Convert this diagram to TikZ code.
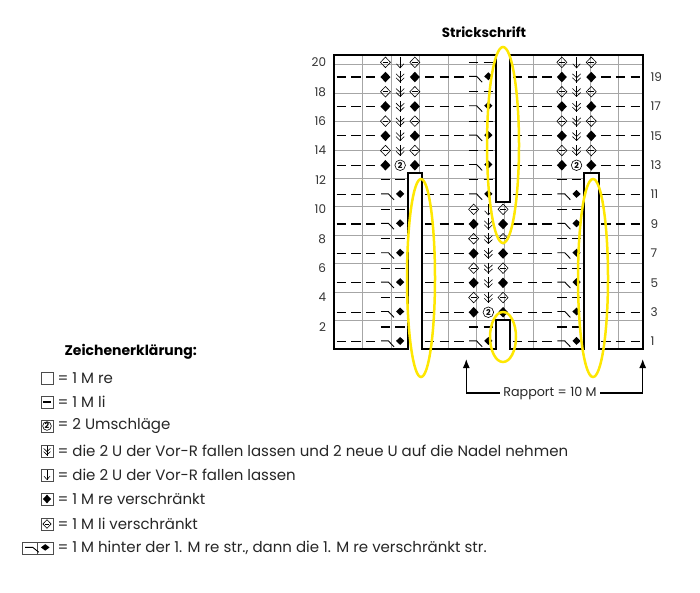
\documentclass[tikz,border=0pt]{standalone}
\usepackage{fontspec}
\setmainfont{Poppins}
\usepackage{tikz}
\usetikzlibrary{calc,arrows.meta}

% stitch symbols, in cell units (cell (i,r) spans i..i+1, r-1..r)
\newcommand\kli[2]{\draw[lidash] (#1+.18,#2-.5) -- (#1+.82,#2-.5);}
\newcommand\kfull[2]{\fill (#1+.5,#2-.86) -- (#1+.84,#2-.5) -- (#1+.5,#2-.14) -- (#1+.16,#2-.5) -- cycle;}
\newcommand\kopen[2]{\draw[sym] (#1+.5,#2-.86) -- (#1+.84,#2-.5) -- (#1+.5,#2-.14) -- (#1+.16,#2-.5) -- cycle;
  \draw[sym] (#1+.3,#2-.5) -- (#1+.7,#2-.5);}
\newcommand\karrow[2]{\draw[sym] (#1+.5,#2-.12) -- (#1+.5,#2-.88);
  \draw[sym] (#1+.25,#2-.6) -- (#1+.5,#2-.88) -- (#1+.75,#2-.6);}
\newcommand\kdarrow[2]{\draw[sym] (#1+.5,#2-.12) -- (#1+.5,#2-.88);
  \draw[sym] (#1+.22,#2-.28) -- (#1+.5,#2-.55) -- (#1+.78,#2-.28);
  \draw[sym] (#1+.22,#2-.55) -- (#1+.5,#2-.82) -- (#1+.78,#2-.55);}
\newcommand\kyarn[2]{\draw[sym] (#1+.5,#2-.5) circle[radius=.36];
  \node[font=\fontsize{8}{8}\selectfont\bfseries] at (#1+.5,#2-.5) {2};}
\newcommand\kcross[2]{\draw[sym,line width=.9pt] (#1+.2,#2-.45) -- (#1+.7,#2-.45) -- (#1+1.08,#2-.85);
  \fill (#1+1.5,#2-.72) -- (#1+1.78,#2-.45) -- (#1+1.5,#2-.18) -- (#1+1.22,#2-.45) -- cycle;}
% one motif of three columns
\newcommand\kplain[2]{\ifodd#2 \kcross{#1}{#2}\else \kli{#1}{#2}\kli{#1+1}{#2}\fi}
\newcommand\kmotif[4]{%
  \ifnum#2<#3 \kplain{#1}{#2}\else\ifnum#2>#4 \kplain{#1}{#2}\else
    \ifodd#2 \kfull{#1}{#2}\kfull{#1+2}{#2}\else \kopen{#1}{#2}\kopen{#1+2}{#2}\fi
    \ifnum#2=#3 \kyarn{#1+1}{#2}\else\ifnum#2=#4 \karrow{#1+1}{#2}\else \kdarrow{#1+1}{#2}\fi\fi
  \fi\fi}

\begin{document}
\begin{tikzpicture}[x=1pt,y=-1pt,
    gridline/.style={gray!70,line width=.5pt},
    outline/.style={line width=2pt},
    lidash/.style={line width=1.1pt},
    sym/.style={line width=.6pt},
    ring/.style={yellow!90!orange,line width=2.5pt},
    label/.style={font=\fontsize{12}{14}\selectfont,text=black!80},
    legend/.style={font=\fontsize{15}{17}\selectfont,anchor=west,text=black!85}]
  \useasboundingbox (0,0) rectangle (700,593);
  \node[font=\fontsize{13.4}{15}\selectfont\bfseries] (title) at (484,32) {Strickschrift};
  % chart
  \begin{scope}[shift={(334,349)},x=14.7pt,y=14.7pt]
    \draw[gridline] (0,0) grid (21,20);
    \foreach \r in {1,...,20}{
      \ifodd\r
        \foreach \c in {0,1,2,6,7,8,12,13,14,18,19,20}{\kli{\c}{\r}}
      \fi
      \kmotif{3}{\r}{13}{20}
      \kmotif{9}{\r}{3}{10}
      \kmotif{15}{\r}{13}{20}
    }
    \draw[outline] (0,0) rectangle (21,20);
    % empty columns
    \fill[white] (5,-.2) rectangle (6,12) (17,-.2) rectangle (18,12)
      (11,-.2) rectangle (12,2) (11,10) rectangle (12,20.2);
    \draw[outline] (5,-.04) -- (5,12) -- (6,12) -- (6,-.04);
    \draw[outline] (17,-.04) -- (17,12) -- (18,12) -- (18,-.04);
    \draw[outline] (11,-.04) -- (11,2) -- (12,2) -- (12,-.04);
    \draw[outline] (11,20.04) -- (11,10) -- (12,10) -- (12,20.04);
    \foreach \r in {2,4,...,20}{\node[label,anchor=east] at (-.3,\r-.5) {\r};}
    \foreach \r in {1,3,...,19}{\node[label,anchor=west] at (21.3,\r-.5) {\r};}
    \coordinate (rapL) at (9,0);
    \coordinate (rapR) at (21,0);
  \end{scope}
  % marked spots
  \draw[ring] (421,278) ellipse[x radius=14,y radius=99];
  \draw[ring] (503,145) ellipse[x radius=16,y radius=98];
  \draw[ring] (503,337) ellipse[x radius=13,y radius=25];
  \draw[ring] (593,278) ellipse[x radius=15,y radius=99];
  % repeat
  \node[legend,anchor=center,font=\fontsize{12.7}{15}\selectfont] (rapport) at (550,393) {Rapport = 10 M};
  \draw[-{Latex[length=9pt,width=7pt]},line width=1.2pt] (rapport.west) -| ($(rapL)+(0,10)$);
  \draw[-{Latex[length=9pt,width=7pt]},line width=1.2pt] (rapport.east) -| ($(rapR)+(0,10)$);
  % legend
  \node[font=\fontsize{14}{16}\selectfont\bfseries,anchor=west] (key) at (61,352) {Zeichenerklärung:};
  \foreach \y/\t in {378/{= 1 M re},402/{= 1 M li},426/{= 2 Umschläge},
      451/{= die 2 U der Vor-R fallen lassen und 2 neue U auf die Nadel nehmen},
      475/{= die 2 U der Vor-R fallen lassen},499/{= 1 M re verschränkt},
      524/{= 1 M li verschränkt},548/{= 1 M hinter der 1. M re str., dann die 1. M re verschränkt str.}}{
    \node[legend] at (54,\y) {\t};
  }
  \foreach \y/\s in {378/0,402/1,426/2,451/3,475/4,499/5,524/6}{
    \begin{scope}[shift={(41,\y+6)},x=12pt,y=12pt]
      \draw[gridline,draw=black!70] (0,0) rectangle (1,1);
      \ifcase\s \or \kli{0}{1}\or \kyarn{0}{1}\or \kdarrow{0}{1}\or \karrow{0}{1}\or \kfull{0}{1}\or \kopen{0}{1}\fi
    \end{scope}
  }
  \begin{scope}[shift={(22,554)},x=15.5pt,y=12pt]
    \draw[gridline,draw=black!70] (0,0) rectangle (2,1) (1,0) -- (1,1);
    \kcross{0}{1}
  \end{scope}
\end{tikzpicture}
\end{document}
